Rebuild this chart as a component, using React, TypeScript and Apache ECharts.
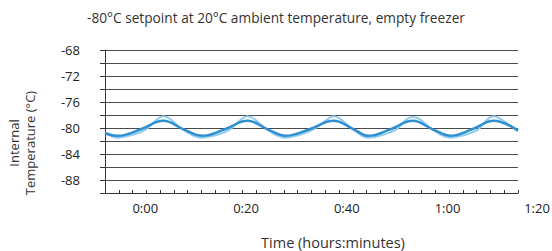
import React, { useEffect, useRef } from "react";
import * as echarts from "echarts";

const TITLE = "-80°C setpoint at 20°C ambient temperature, empty freezer";
const X_NAME = "Time (hours:minutes)";
const Y_NAME = "Internal\nTemperature (°C)";

// minutes
const lightTime = [
  -8, -5.4, -2.7, 0, 2.3, 3.6, 4.9, 7.6,
  11.3, 14, 16.7, 19, 20.3, 21.6, 24.3,
  27.8, 30.5, 33.2, 36.1, 37.4, 38.7, 41.4,
  44.3, 47, 49.7, 51.8, 53.1, 54.4, 57.1,
  60.6, 63.3, 66, 67.9, 69.2, 70.5, 74,
];
const lightTemp = [
  -80.7, -81.5, -81.1, -80.3, -78.7, -78.2, -78.6, -80.3,
  -81.5, -81.1, -80.3, -78.7, -78.2, -78.6, -80.3,
  -81.5, -81.1, -80.3, -78.7, -78.2, -78.6, -80.3,
  -81.5, -81.1, -80.3, -78.7, -78.3, -78.6, -80.3,
  -81.5, -81.1, -80.3, -78.7, -78.2, -78.6, -80.5,
];

const darkTime = [
  -8, -5.4, -0.9, 3.6, 7.6, 11.3, 15.8, 20.3, 24.3, 27.8, 32.6,
  37.4, 41.4, 44.3, 48.7, 53.1, 57.1, 60.6, 64.9, 69.2, 74,
];
const darkTemp = [
  -80.8, -81.2, -80.2, -78.9, -80.2, -81.2, -80.2, -78.9, -80.2, -81.2, -80.2,
  -78.9, -80.2, -81.2, -80.2, -78.9, -80.2, -81.2, -80.2, -78.9, -80.4,
];

const xLabelValues = [0, 20, 40, 60];
const extraXLabel = "1:20";
const yMin = -90;
const yMax = -68;
const xMin = -8;
const xMax = 74;
const tickCount = 30;

const FONT = "Open Sans";

function fmtTime(v: number) {
  const h = Math.floor(v / 60);
  const m = Math.round(v - h * 60);
  return `${h}:${m < 10 ? "0" + m : m}`;
}

export default function App() {
  const ref = useRef<HTMLDivElement>(null);
  useEffect(() => {
    if (!ref.current) return;
    const chart = echarts.init(ref.current, null, { renderer: "svg" });
    const ticks: number[] = [];
    for (let i = 0; i <= tickCount; i++) ticks.push(xMin + ((xMax - xMin) * i) / tickCount);
    chart.setOption({
      animation: false,
      backgroundColor: "#ffffff",
      title: {
        text: TITLE,
        left: "center",
        top: 5,
        textStyle: { fontFamily: FONT, fontSize: 13.7, fontWeight: "normal", color: "#333" },
      },
      grid: { left: 105, right: 34, top: 50, bottom: 58 },
      xAxis: {
        type: "value",
        min: xMin,
        max: xMax,
        axisLine: { show: true, onZero: false, lineStyle: { color: "#333", width: 1 } },
        axisTick: { show: true, inside: true, length: 3, customValues: ticks, lineStyle: { color: "#333" } },
        axisLabel: {
          customValues: xLabelValues,
          formatter: (v: number) => fmtTime(v),
          margin: 8,
          fontFamily: FONT,
          fontSize: 13,
          color: "#222",
        },
        splitLine: { show: false },
      },
      yAxis: {
        type: "value",
        min: yMin,
        max: yMax,
        interval: 2,
        axisLine: { show: true, onZero: false, lineStyle: { color: "#333", width: 1 } },
        axisTick: { show: true, length: 5, lineStyle: { color: "#333" } },
        axisLabel: {
          margin: 25,
          fontFamily: FONT,
          fontSize: 13,
          color: "#222",
          formatter: (v: number) => (Math.round(v - yMin) % 4 === 2 ? String(v) : ""),
        },
        splitLine: { show: true, lineStyle: { color: "#4a4a4a", width: 1 } },
      },
      graphic: [
        {
          type: "text",
          x: 537,
          y: 208,
          style: { text: extraXLabel, fontFamily: FONT, fontSize: 13, fill: "#222", textAlign: "center", textVerticalAlign: "middle" },
        },
        {
          type: "text",
          x: 333,
          y: 242,
          style: { text: X_NAME, fontFamily: FONT, fontSize: 14.5, fill: "#333", textAlign: "center", textVerticalAlign: "middle" },
        },
        {
          type: "text",
          x: 22,
          y: 143,
          rotation: Math.PI / 2,
          style: { text: Y_NAME, fontFamily: FONT, fontSize: 13, lineHeight: 16, fill: "#333", textAlign: "center", textVerticalAlign: "middle" },
        },
      ],
      series: [
        {
          type: "line",
          data: lightTime.map((t, i) => [t, lightTemp[i]]),
          smooth: 0.4,
          showSymbol: false,
          lineStyle: { color: "#92cdf0", width: 2 },
        },
        {
          type: "line",
          data: darkTime.map((t, i) => [t, darkTemp[i]]),
          smooth: 0.4,
          showSymbol: false,
          lineStyle: { color: "#2f8fd0", width: 2.5 },
        },
      ],
    });
    return () => chart.dispose();
  }, []);
  return <div ref={ref} style={{ width: 552, height: 251, position: "absolute", left: 0, top: 0 }} />;
}
